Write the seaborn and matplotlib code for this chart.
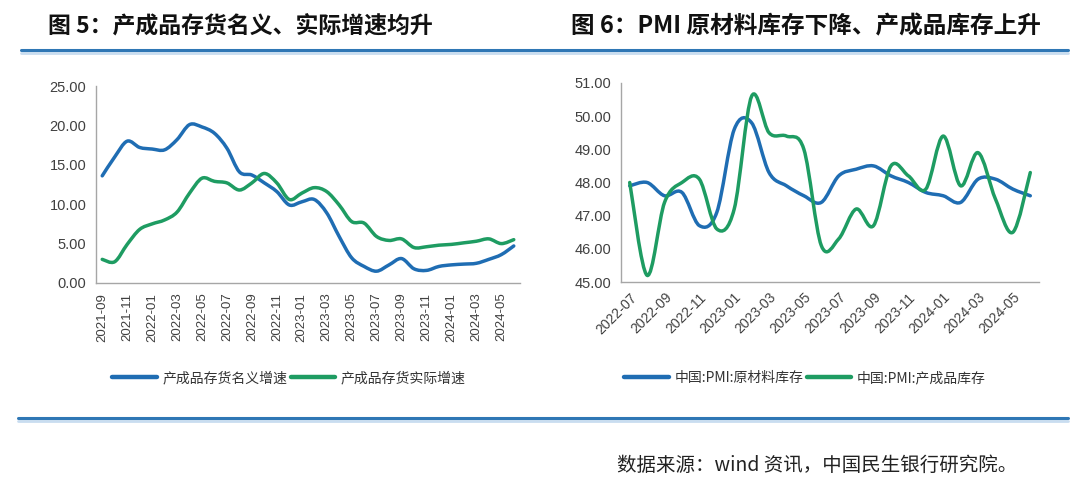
import numpy as np
import pandas as pd
import matplotlib
matplotlib.use("Agg")
import matplotlib.pyplot as plt
import seaborn as sns
from matplotlib.lines import Line2D
from matplotlib.path import Path
from matplotlib.patches import PathPatch

# ---------------- data ----------------
months_left = pd.period_range("2021-09", "2024-06", freq="M").strftime("%Y-%m").tolist()
nominal_growth = [13.6, 16.0, 18.0, 17.2, 17.0, 16.9, 18.2, 20.1, 19.8, 19.0, 17.1, 14.1,
                  13.7, 12.7, 11.6, 9.9, 10.3, 10.6, 8.9, 5.9, 3.2, 2.1, 1.5, 2.3,
                  3.1, 1.8, 1.6, 2.1, 2.3, 2.4, 2.5, 3.0, 3.6, 4.7]
real_growth = [3.0, 2.7, 4.9, 6.8, 7.5, 8.0, 9.0, 11.4, 13.3, 12.9, 12.7, 11.8,
               12.7, 13.9, 12.7, 10.6, 11.4, 12.1, 11.6, 9.9, 7.8, 7.6, 5.9, 5.4,
               5.6, 4.5, 4.6, 4.8, 4.9, 5.1, 5.3, 5.6, 5.0, 5.5]
left_names = ["产成品存货名义增速", "产成品存货实际增速"]

months_right = pd.period_range("2022-07", "2024-06", freq="M").strftime("%Y-%m").tolist()
pmi_raw = [47.9, 48.0, 47.6, 47.7, 46.7, 47.1, 49.6, 49.8, 48.3, 47.9, 47.6, 47.4,
           48.2, 48.4, 48.5, 48.2, 48.0, 47.7, 47.6, 47.4, 48.1, 48.1, 47.8, 47.6]
pmi_finished = [48.0, 45.2, 47.4, 48.0, 48.1, 46.6, 47.2, 50.6, 49.5, 49.4, 49.0, 46.1,
                46.3, 47.2, 46.7, 48.5, 48.2, 47.8, 49.4, 47.9, 48.9, 47.5, 46.5, 48.3]
right_names = ["中国:PMI:原材料库存", "中国:PMI:产成品库存"]

left_yticks = [0, 5, 10, 15, 20, 25]
right_yticks = [45, 46, 47, 48, 49, 50, 51]

title_left = "图 5：产成品存货名义、实际增速均升"
title_right = "图 6：PMI 原材料库存下降、产成品库存上升"
source_text = "数据来源：wind 资讯，中国民生银行研究院。"

# ---------------- style ----------------
sns.set_theme(style="white")
plt.rcParams["font.family"] = ["Noto Sans CJK SC", "DejaVu Sans"]
BLUE = "#1F6DB3"
GREEN = "#1E9C62"
SPINE = "#A6A6A6"
TICK = "#404040"
RULE = "#2F77B5"

W, H = 1075, 484
fig = plt.figure(figsize=(W / 100, H / 100), dpi=100)


def fx(px):
    return px / W


def fy(py):
    return 1 - py / H


def smooth_lines(ax):
    """Replace seaborn's straight polylines by smooth Bezier curves through the same points."""
    for line in list(ax.get_lines()):
        pts = line.get_xydata()
        if len(pts) < 3:
            continue
        n = len(pts)
        verts = [pts[0]]
        codes = [Path.MOVETO]
        for i in range(n - 1):
            p0 = pts[i - 1] if i > 0 else pts[i]
            p1 = pts[i]
            p2 = pts[i + 1]
            p3 = pts[i + 2] if i + 2 < n else pts[i + 1]
            c1 = p1 + (p2 - p0) / 6.0
            c2 = p2 - (p3 - p1) / 6.0
            verts += [c1, c2, p2]
            codes += [Path.CURVE4] * 3
        patch = PathPatch(Path(verts, codes), facecolor="none",
                          edgecolor=line.get_color(), lw=line.get_linewidth(),
                          capstyle="round", joinstyle="round", zorder=line.get_zorder())
        ax.add_patch(patch)
        line.remove()


def style_axes(ax):
    for s in ["top", "right"]:
        ax.spines[s].set_visible(False)
    for s in ["left", "bottom"]:
        ax.spines[s].set_color(SPINE)
        ax.spines[s].set_linewidth(1.0)
    ax.tick_params(length=0, colors=TICK)
    ax.grid(False)
    ax.set_xlabel("")
    ax.set_ylabel("")


# ---------------- left chart ----------------
axL = fig.add_axes([fx(96), fy(283), fx(520 - 96), (283 - 86) / H])
xl = np.arange(len(months_left))
dfL_long = pd.concat([
    pd.DataFrame({"x": xl, "v": nominal_growth, "s": left_names[0]}),
    pd.DataFrame({"x": xl, "v": real_growth, "s": left_names[1]}),
])
sns.lineplot(data=dfL_long, x="x", y="v", hue="s", palette=[BLUE, GREEN],
             linewidth=2.5, ax=axL, legend=False)
smooth_lines(axL)
axL.set_xlim(-0.5, len(months_left) - 0.5)
axL.set_ylim(0, 25)
axL.set_yticks(left_yticks)
axL.set_yticklabels([f"{v:.2f}" for v in left_yticks], fontsize=10.5,
                    family=["Liberation Sans", "DejaVu Sans"])
xt = list(range(0, len(months_left), 2))
axL.set_xticks(xt)
axL.set_xticklabels([months_left[i] for i in xt], rotation=90, fontsize=9.5,
                    family=["Liberation Sans", "DejaVu Sans"])
style_axes(axL)
axL.tick_params(axis="x", pad=7)
axL.tick_params(axis="y", pad=7)

# ---------------- right chart ----------------
axR = fig.add_axes([fx(621), fy(282), fx(1039 - 621), (282 - 83) / H])
xr = np.arange(len(months_right))
dfR_long = pd.concat([
    pd.DataFrame({"x": xr, "v": pmi_raw, "s": right_names[0]}),
    pd.DataFrame({"x": xr, "v": pmi_finished, "s": right_names[1]}),
])
sns.lineplot(data=dfR_long, x="x", y="v", hue="s", palette=[BLUE, GREEN],
             linewidth=2.5, ax=axR, legend=False)
smooth_lines(axR)
axR.set_xlim(-0.5, len(months_right) - 0.5)
axR.set_ylim(45, 51)
axR.set_yticks(right_yticks)
axR.set_yticklabels([f"{v:.2f}" for v in right_yticks], fontsize=10.5,
                    family=["Liberation Sans", "DejaVu Sans"])
xt = list(range(0, len(months_right), 2))
axR.set_xticks(xt)
axR.set_xticklabels([months_right[i] for i in xt], rotation=45, ha="right",
                    rotation_mode="anchor", fontsize=10,
                    family=["Liberation Sans", "DejaVu Sans"])
style_axes(axR)
axR.tick_params(axis="x", pad=6)
axR.tick_params(axis="y", pad=7)

# ---------------- legends ----------------
def make_legend(names, cx):
    handles = [Line2D([], [], color=BLUE, lw=3.2), Line2D([], [], color=GREEN, lw=3.2)]
    fig.legend(handles, names, loc="center", bbox_to_anchor=(cx, fy(378)), ncol=2,
               frameon=False, fontsize=10, handlelength=3.2, handletextpad=0.4,
               columnspacing=0.25, labelcolor="#333333")


make_legend(left_names, fx(289))
make_legend(right_names, fx(805))

# ---------------- titles, rules, source ----------------
fig.text(fx(48), fy(26), title_left, fontsize=16.5, fontweight="bold",
         ha="left", va="center", color="#111111")
fig.text(fx(571), fy(26), title_right, fontsize=17, fontweight="bold",
         ha="left", va="center", color="#111111")

for y0, x0, x1 in [(50, 21, 1068), (418, 18, 1068)]:
    fig.add_artist(Line2D([fx(x0), fx(x1)], [fy(y0 + 2.5), fy(y0 + 2.5)],
                          color="#C9DDF0", lw=2.0, transform=fig.transFigure))
    fig.add_artist(Line2D([fx(x0), fx(x1)], [fy(y0), fy(y0)],
                          color=RULE, lw=2.2, transform=fig.transFigure))

fig.text(fx(617), fy(465), source_text, fontsize=14, ha="left", va="center",
         color="#222222")

fig.savefig("out.png", dpi=100, facecolor="white")
